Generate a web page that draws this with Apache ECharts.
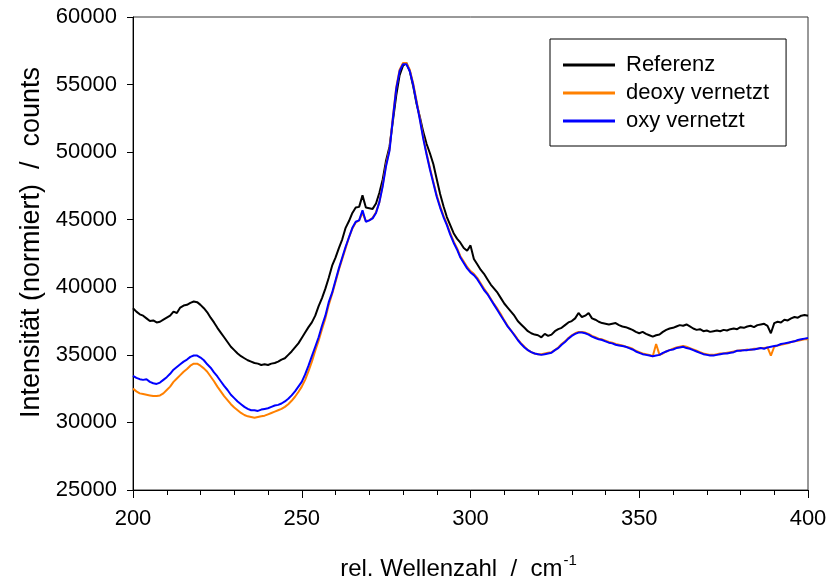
<!DOCTYPE html>
<html>
<head>
<meta charset="utf-8">
<script src="https://cdn.jsdelivr.net/npm/echarts@6/dist/echarts.min.js"></script>
<style>html,body{margin:0;padding:0;background:#fff}#c{width:829px;height:583px}</style>
</head>
<body>
<div id="c"></div>
<script>
var wavenumbers = [200,201,202,203,204,205,206,207,208,209,210,211,212,213,214,215,216,217,218,219,220,221,222,223,224,225,226,227,228,229,230,231,232,233,234,235,236,237,238,239,240,241,242,243,244,245,246,247,248,249,250,251,252,253,254,255,256,257,258,259,260,261,262,263,264,265,266,267,268,269,270,271,272,273,274,275,276,277,278,279,280,281,282,283,284,285,286,287,288,289,290,291,292,293,294,295,296,297,298,299,300,301,302,303,304,305,306,307,308,309,310,311,312,313,314,315,316,317,318,319,320,321,322,323,324,325,326,327,328,329,330,331,332,333,334,335,336,337,338,339,340,341,342,343,344,345,346,347,348,349,350,351,352,353,354,355,356,357,358,359,360,361,362,363,364,365,366,367,368,369,370,371,372,373,374,375,376,377,378,379,380,381,382,383,384,385,386,387,388,389,390,391,392,393,394,395,396,397,398,399,400];

var referenz = [38450,38200,38000,37900,37700,37500,37550,37400,37450,37600,37750,37900,38200,38100,38500,38650,38700,38850,38950,38900,38700,38450,38150,37750,37400,37000,36650,36300,35950,35600,35350,35100,34900,34750,34600,34500,34400,34350,34250,34300,34250,34350,34400,34500,34650,34750,35000,35250,35550,35850,36250,36650,37050,37400,37900,38600,39200,39900,40700,41600,42200,42900,43550,44400,44900,45500,45900,45950,46800,45900,45850,45800,46200,47000,48000,49400,50400,52300,54200,55700,56400,56600,56000,54900,53600,52600,51500,50600,49900,49100,48000,46900,46000,45200,44600,44000,43600,43300,42900,42700,43100,42100,41700,41300,41000,40600,40200,39900,39600,39200,38800,38500,38200,37900,37500,37250,37000,36750,36600,36500,36450,36300,36550,36400,36500,36750,36900,37000,37200,37400,37500,37700,38100,37800,37900,38100,37700,37600,37450,37350,37300,37250,37300,37350,37200,37100,37050,36950,36850,36700,36600,36700,36550,36450,36350,36450,36500,36700,36850,36950,37000,37100,37200,37150,37250,37100,36950,36850,36900,36750,36800,36700,36750,36800,36750,36850,36800,36900,36950,36900,37050,37000,37100,37150,37050,37200,37250,37300,37150,36600,37350,37450,37400,37600,37550,37700,37800,37750,37900,37950,37900];

var deoxy = [32500,32300,32150,32100,32050,32000,31950,31950,32000,32150,32400,32650,33000,33250,33500,33750,33950,34200,34350,34350,34200,34000,33750,33400,33050,32650,32300,31950,31650,31350,31100,30900,30700,30550,30450,30400,30350,30400,30450,30500,30600,30700,30800,30900,31000,31150,31350,31600,31900,32250,32650,33150,33800,34500,35300,36050,36900,37700,38700,39500,40400,41300,42100,42900,43700,44350,44800,44950,45500,44900,44950,45150,45550,46300,47600,49100,50200,52600,54800,56100,56600,56600,56100,55100,53800,52500,51100,49900,48800,47800,46800,46000,45300,44700,44000,43400,42900,42300,41900,41500,41200,41000,40700,40300,39900,39550,39150,38750,38400,38000,37550,37150,36800,36500,36150,35850,35600,35350,35200,35100,35050,35050,35100,35150,35200,35350,35550,35800,36000,36250,36450,36600,36700,36700,36650,36550,36400,36300,36200,36150,36050,35950,35900,35800,35750,35700,35600,35550,35450,35300,35200,35100,35050,35000,34900,35800,35000,35100,35250,35350,35450,35550,35600,35650,35600,35500,35400,35300,35200,35100,35050,35000,35000,35050,35100,35100,35150,35200,35250,35300,35350,35350,35400,35350,35450,35450,35500,35500,35550,34950,35600,35700,35750,35800,35850,35950,36000,36050,36100,36150,36150];

var oxy = [33450,33300,33200,33150,33200,33000,32900,32850,32950,33150,33350,33600,33900,34100,34300,34500,34650,34850,34950,34950,34800,34600,34300,34050,33700,33400,33050,32700,32400,32050,31800,31550,31350,31150,31000,30900,30900,30850,30950,31000,31050,31150,31250,31300,31400,31550,31750,32000,32300,32650,33000,33550,34200,34900,35600,36300,37150,37900,38900,39600,40500,41400,42200,43000,43700,44400,44850,44950,45700,44850,44950,45100,45500,46300,47500,49000,50100,52500,54700,56000,56500,56500,56000,55000,53700,52400,51000,49800,48700,47700,46700,45900,45200,44600,43900,43300,42800,42200,41800,41400,41100,40900,40600,40200,39800,39500,39100,38700,38300,37900,37500,37100,36800,36450,36100,35800,35550,35350,35200,35100,35050,35000,35050,35100,35150,35350,35500,35750,35950,36200,36400,36550,36650,36650,36600,36500,36350,36250,36150,36100,36000,35900,35850,35750,35700,35650,35600,35500,35400,35250,35150,35050,35000,34950,34900,34950,35000,35150,35250,35350,35400,35500,35550,35600,35500,35450,35350,35250,35150,35050,35000,34950,34950,35000,35050,35100,35100,35150,35200,35300,35300,35350,35350,35400,35400,35450,35500,35450,35550,35600,35650,35700,35800,35850,35900,35950,36000,36100,36150,36200,36250];

var seriesNames = ['Referenz', 'deoxy vernetzt', 'oxy vernetzt'];
var seriesColors = ['#000000', '#FF8000', '#0000FF'];
var xTicks = {min: 200, max: 400, step: 50};
var yTicks = {min: 25000, max: 60000, step: 5000};

function pairs(vals) {
  return wavenumbers.map(function (w, i) { return [w, vals[i]]; });
}
var allValues = [referenz, deoxy, oxy];

var chart = echarts.init(document.getElementById('c'), null, {renderer: 'canvas'});
var font = 'Liberation Sans, Arial, Helvetica, sans-serif';
chart.setOption({
  animation: false,
  backgroundColor: '#ffffff',
  grid: {left: 133, right: 21, top: 17, bottom: 93, show: true, borderColor: '#333', borderWidth: 1,
    backgroundColor: 'transparent', containLabel: false, outerBoundsMode: 'none'},
  legend: {
    orient: 'vertical', left: 550, top: 39,
    data: seriesNames,
    icon: 'rect', itemWidth: 52, itemHeight: 3, itemGap: 6,
    padding: [15, 17, 14, 13],
    borderColor: '#000', borderWidth: 1, backgroundColor: '#fff',
    textStyle: {fontFamily: font, fontSize: 22, color: '#000', padding: [0, 0, 0, 6]}
  },
  xAxis: {
    type: 'value', min: xTicks.min, max: xTicks.max, interval: xTicks.step,
    name: '{a|rel. Wellenzahl  /  cm}{s|-1}',
    nameLocation: 'middle', nameGap: 63,
    nameTextStyle: {fontFamily: font, color: '#000', padding: [0, 24, 0, 0], rich: {
      a: {fontFamily: font, fontSize: 24, color: '#000', lineHeight: 28, verticalAlign: 'bottom'},
      s: {fontFamily: font, fontSize: 15, color: '#000', lineHeight: 28, verticalAlign: 'top', padding: [0, 0, 14, 1]}
    }},
    axisLine: {show: true, lineStyle: {color: '#000', width: 1}},
    axisTick: {show: true, inside: false, length: 8, lineStyle: {color: '#000'}},
    minorTick: {show: true, splitNumber: 5, length: 5, lineStyle: {color: '#000'}},
    splitLine: {show: false},
    axisLabel: {fontFamily: font, fontSize: 22, color: '#000', margin: 18}
  },
  yAxis: {
    type: 'value', min: yTicks.min, max: yTicks.max, interval: yTicks.step,
    name: 'Intensität (normiert)  /  counts',
    nameLocation: 'middle', nameGap: 86,
    nameTextStyle: {fontFamily: font, fontSize: 27, color: '#000', padding: [0, 0, 0, 22]},
    axisLine: {show: true, lineStyle: {color: '#000', width: 1}},
    axisTick: {show: true, inside: false, length: 6, lineStyle: {color: '#000'}},
    splitLine: {show: false},
    axisLabel: {fontFamily: font, fontSize: 22, color: '#000', margin: 16,
      formatter: function (v) { return String(v); }}
  },
  series: seriesNames.map(function (n, i) {
    return {
      name: n, type: 'line', data: pairs(allValues[i]),
      showSymbol: false, symbol: 'none', smooth: false,
      lineStyle: {color: seriesColors[i], width: 2},
      itemStyle: {color: seriesColors[i]},
      z: 2 + i
    };
  })
});
</script>
</body>
</html>
